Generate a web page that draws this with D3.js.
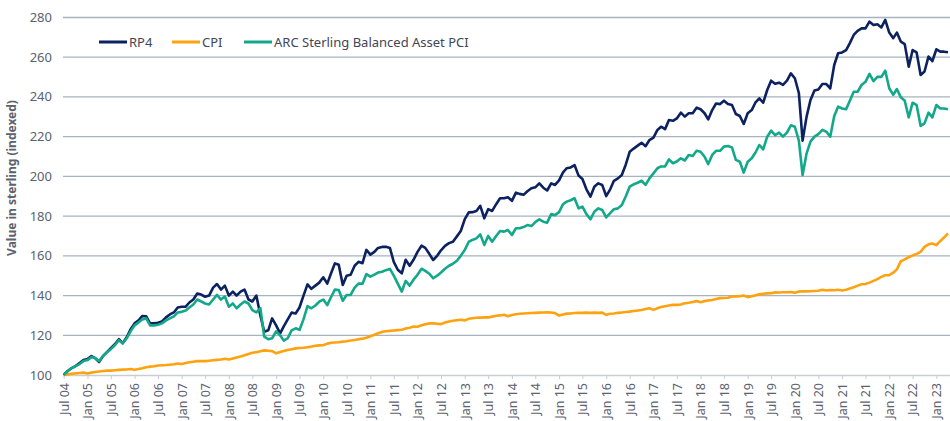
<!DOCTYPE html>
<html>
<head>
<meta charset="utf-8">
<script src="https://cdn.jsdelivr.net/npm/d3@7"></script>
<style>
  body { margin: 0; background: #fff; }
  svg { display: block; font-family: "Noto Sans", "Open Sans", sans-serif; }
</style>
</head>
<body>
<div id="chart"></div>
<script>
// monthly index values, Jul 2004 .. Apr 2023
const rp4 = [
  100, 102, 103.5, 104.5, 106, 107.5, 108, 109.5, 108.5, 106.5, 109.5, 111.5,
  113.5, 115.5, 118, 116, 119, 123, 126, 127.5, 129.7, 129.5, 126, 126,
  126.3, 127, 129, 130.5, 131.5, 134, 134.4, 134.4, 136.5, 138, 141, 140.5,
  139.4, 140, 144, 145.8, 143, 145, 140, 142, 140, 142, 143, 138,
  137, 140, 130, 121.8, 122.5, 128.5, 125, 121, 124.5, 128, 131.4, 131,
  134, 140, 145.6, 143.4, 145, 146.5, 149.2, 146, 151, 156.2, 155.5, 145.3,
  150, 150.5, 155, 157, 156.3, 163, 160.6, 162, 164, 164.5, 164.6, 164,
  157, 153, 151.2, 158, 155, 158, 162, 165.1, 164, 161, 157.9, 160,
  162.8, 165, 166.4, 167.1, 169.8, 172.5, 178.5, 181.9, 182, 182.6, 185.2, 178.9,
  183.5, 182.6, 186, 189, 189, 189.5, 187.7, 191.8, 191.2, 190.7, 192.5, 194,
  194.5, 196.5, 194.3, 192.9, 196.5, 195.7, 198, 202, 204.1, 204.5, 205.7, 200.4,
  198.7, 193.5, 189.8, 194.8, 196.5, 195.7, 190.1, 193.5, 197.8, 199, 200.7, 206,
  212.4, 214, 215.5, 216.9, 215.2, 218.3, 219.5, 223.4, 225, 223.8, 228.4, 228,
  229.2, 232.1, 230.1, 231.8, 231.8, 234.6, 233.8, 231.8, 228.7, 233.4, 236.7, 236.4,
  238.1, 236.4, 235.9, 231.4, 230.4, 226.4, 231.8, 233.4, 237.1, 239.3, 237.1, 243.5,
  248.2, 246.6, 247.2, 246.1, 248.2, 251.9, 249.4, 242, 218, 230.1, 238.5, 243.2,
  243.7, 246.5, 246.5, 244.3, 256.1, 262, 262.4, 263.6, 267, 271.2, 273.3, 274.5,
  274.5, 277.9, 276.2, 276.6, 275, 278.8, 272.4, 269.6, 272.4, 267.8, 266.6, 255.2,
  263.6, 262.4, 251.1, 252.8, 260.3, 258, 264, 262.8, 262.8, 262.5
];

const cpi = [
  100, 100.3, 100.6, 100.8, 101, 101.2, 100.7, 101.2, 101.5, 101.8, 102, 102.2,
  102.2, 102.4, 102.6, 102.7, 102.8, 103, 102.6, 103, 103.4, 103.9, 104.2, 104.4,
  104.8, 104.9, 105, 105.2, 105.4, 105.8, 105.5, 106, 106.4, 106.7, 107, 107,
  107, 107.2, 107.4, 107.6, 107.8, 108.2, 107.8, 108.3, 108.8, 109.3, 109.9, 110.6,
  111.2, 111.5, 112, 112.4, 112.2, 112, 110.9, 111.6, 112.1, 112.6, 113, 113.4,
  113.6, 113.7, 114, 114.3, 114.7, 114.9, 115, 115.8, 116.2, 116.4, 116.5, 116.8,
  117, 117.4, 117.6, 118, 118.3, 118.8, 119.5, 120.3, 121, 121.7, 122, 122.2,
  122.4, 122.6, 122.8, 123.4, 123.8, 124.4, 124.3, 125, 125.6, 126, 126, 125.8,
  125.6, 126.4, 126.9, 127.3, 127.6, 127.8, 127.5, 128.3, 128.6, 128.8, 128.9, 129,
  129, 129.4, 129.8, 130, 130.3, 129.6, 130.2, 130.6, 130.8, 131, 131.1, 131.2,
  131.3, 131.4, 131.5, 131.6, 131.4, 131.2, 129.9, 130.5, 130.9, 131, 131.2, 131.3,
  131.3, 131.4, 131.3, 131.4, 131.3, 131.4, 130.3, 130.8, 131, 131.3, 131.5, 131.7,
  131.9, 132.2, 132.5, 132.7, 133.2, 133.6, 132.8, 133.6, 134.2, 134.6, 135, 135.3,
  135.3, 135.5, 136.1, 136.4, 136.8, 137.2, 136.6, 137.2, 137.5, 137.8, 138.3, 138.7,
  138.8, 138.9, 139.5, 139.6, 139.7, 140, 139.2, 139.7, 140.1, 140.6, 140.9, 141.1,
  141.2, 141.6, 141.5, 141.7, 141.7, 141.8, 141.4, 142, 142.2, 142.1, 142.2, 142.3,
  142.4, 142.9, 142.5, 142.8, 142.7, 142.9, 142.5, 142.9, 143.5, 144.2, 145, 145.7,
  145.8, 146.5, 147.4, 148.3, 149.4, 150.2, 150.3, 151.5, 153.2, 157.3, 158.2, 159.3,
  160.2, 161, 162, 164.5, 165.8, 166.2, 165.4, 167.5, 169.2, 171.3
];

const arc = [
  100, 102, 103.5, 104.5, 105.5, 107, 107.5, 109, 108.5, 107, 109.5, 111.5,
  113, 115, 117.5, 116, 118.5, 122, 125, 126.5, 128, 128.5, 125, 125,
  125.3, 126, 127.5, 128.5, 129.5, 131.5, 131.8, 132.5, 134, 135.5, 138, 137,
  136, 135.5, 138, 140.3, 138, 139.5, 134.4, 136, 133.6, 135.5, 137, 136,
  132.7, 131.5, 133.6, 119.3, 118, 118.5, 122, 120, 117.3, 118.5, 122.5, 123.5,
  122.7, 128, 134.7, 133.6, 135, 136.9, 138, 135.2, 139, 143, 142.8, 137.4,
  140.3, 140.3, 144, 146, 146, 150.8, 149.5, 150.5, 151.6, 152, 152.8, 153.4,
  150, 146, 142, 147.4, 145, 148, 150.5, 153.5, 152.4, 151, 148.7, 150,
  151.6, 153.5, 155, 156, 157.5, 160, 163, 167.1, 168, 168.8, 170.8, 165.5,
  170, 167.1, 170, 172.5, 172.2, 173, 170.5, 173.9, 173.9, 174.5, 175.5, 175,
  177, 178.4, 177.2, 176.7, 181, 180.5, 182, 186, 187.3, 188, 189, 183.9,
  184.8, 181, 178.4, 182.2, 183.9, 183.1, 179.4, 181.5, 183.5, 183.9, 185.6, 190,
  194.8, 196, 196.8, 197.8, 195.7, 199, 201.5, 204.1, 205, 205, 208.6, 206.6,
  207.5, 209.1, 208, 210.8, 210.3, 212.9, 212.4, 209.9, 206.2, 210.8, 212.9, 212.9,
  215, 215.3, 214.6, 208.3, 207.4, 201.9, 207.4, 209.1, 211.9, 215.8, 213.6, 220,
  223, 220.8, 222, 220, 222, 225.7, 225, 218, 200.7, 211.6, 217.5, 220,
  221.3, 223.4, 222.5, 220, 230.4, 235.1, 234.2, 233.8, 238, 242.6, 242.6, 246,
  247.6, 251.6, 248, 250.1, 250.1, 253.2, 244.4, 241.1, 244, 239.8, 238.1, 229.7,
  237.1, 235.9, 225.4, 226.7, 232.1, 229.7, 235.9, 234.2, 234.2, 233.8
];

const seriesNames = ["RP4", "CPI", "ARC Sterling Balanced Asset PCI"];
const seriesColors = ["#0c2260", "#ffa20f", "#13a889"];
const yTicks = [100, 120, 140, 160, 180, 200, 220, 240, 260, 280];

const months = d3.timeMonth.range(new Date(2004, 6, 1), new Date(2023, 4, 1));
const xTicks = months.filter(d => d.getMonth() === 0 || d.getMonth() === 6);

const width = 950, height = 421;

const svg = d3.select("#chart").append("svg")
    .attr("width", width)
    .attr("height", height);

const x = d3.scaleTime()
    .domain([months[0], months[months.length - 1]])
    .range([63.7, 948]);

const y = d3.scaleLinear()
    .domain([100, 280])
    .range([375, 17.5]);

// gridlines
svg.append("g")
    .selectAll("line")
    .data(yTicks.slice(1))
    .enter()
    .append("line")
    .attr("x1", 63)
    .attr("x2", width)
    .attr("y1", d => y(d))
    .attr("y2", d => y(d))
    .attr("stroke", "#a7b3bf")
    .attr("stroke-width", 1.3);

// y labels
svg.append("g")
    .selectAll("text")
    .data(yTicks)
    .enter()
    .append("text")
    .attr("x", 52)
    .attr("y", d => y(d))
    .attr("dy", "0.35em")
    .attr("text-anchor", "end")
    .style("font-size", "13px")
    .attr("fill", "#5b6270")
    .text(d => d);

// x axis
const xAxis = svg.append("g")
    .attr("transform", `translate(0,${y(100)})`)
    .call(d3.axisBottom(x).tickValues(xTicks).tickFormat(d3.timeFormat("%b %y")).tickSize(4).tickSizeOuter(0));

xAxis.select(".domain").attr("stroke", "#c8cdd3").attr("stroke-width", 1.3).attr("d", `M63,0.5H${width}`);
xAxis.selectAll(".tick line").attr("stroke", "#c8cdd3");
xAxis.selectAll("text")
    .attr("transform", "rotate(-90)")
    .attr("x", -8)
    .attr("y", 0)
    .attr("dy", "0.35em")
    .attr("text-anchor", "end")
    .style("font-size", "12.5px")
    .style("font-family", "\"Noto Sans\", sans-serif")
    .attr("fill", "#5b6270");

// y axis title
svg.append("text")
    .attr("transform", "translate(16,178) rotate(-90)")
    .attr("text-anchor", "middle")
    .style("font-size", "12px")
    .style("font-weight", "bold")
    .attr("fill", "#5b6270")
    .text("Value in sterling (indexed)");

// lines
const line = d3.line()
    .x((d, i) => x(months[i]))
    .y(d => y(d));

[rp4, cpi, arc].forEach((s, i) => {
    svg.append("path")
        .datum(s)
        .attr("fill", "none")
        .attr("stroke", seriesColors[i])
        .attr("stroke-width", 2.6)
        .attr("stroke-linejoin", "round")
        .attr("d", line);
});

// legend
const legendX = [99, 172, 244];
const legend = svg.append("g");
seriesNames.forEach((name, i) => {
    legend.append("line")
        .attr("x1", legendX[i])
        .attr("x2", legendX[i] + 28)
        .attr("y1", 42)
        .attr("y2", 42)
        .attr("stroke", seriesColors[i])
        .attr("stroke-width", 3);
    legend.append("text")
        .attr("x", legendX[i] + 30)
        .attr("y", 42)
        .attr("dy", "0.35em")
        .style("font-size", "13px")
        .attr("fill", "#3f4656")
        .text(name);
});
</script>
</body>
</html>
